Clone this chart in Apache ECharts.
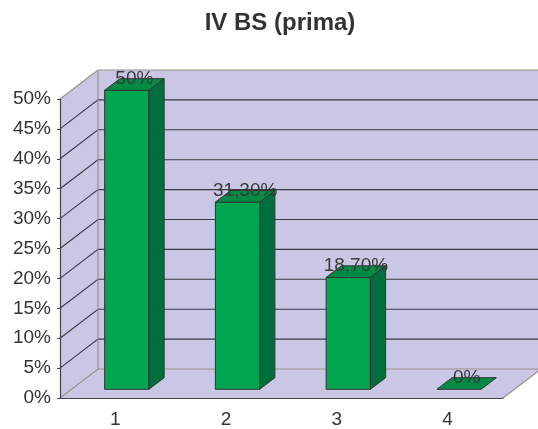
<!DOCTYPE html>
<html>
<head>
<meta charset="utf-8">
<script src="https://cdn.jsdelivr.net/npm/echarts@6/dist/echarts.min.js"></script>
<style>
  html, body { margin: 0; padding: 0; background: #fff; }
  #chart { width: 538px; height: 429px; }
</style>
</head>
<body>
<div id="chart"></div>
<script>
// data
const categories = ["1", "2", "3", "4"];
const values = [50, 31.3, 18.7, 0];
const valueLabels = ["50%", "31,30%", "18,70%", "0%"];
const gridValues = [0, 5, 10, 15, 20, 25, 30, 35, 40, 45, 50];

// pseudo 3d look
const DX = 38, DY = -29;
const WALL = "#C9C7E4";
const FONT = "Liberation Sans, Arial, sans-serif";

function renderWalls(params, api) {
  const cs = params.coordSys;
  const x0 = cs.x, x1 = cs.x + cs.width;
  const yTop = api.coord([0, 50])[1];
  const yBot = api.coord([0, 0])[1];
  const edge = { stroke: "#9a918c", lineWidth: 1.2 };
  const children = [
    // back wall
    { type: "polygon", shape: { points: [[x0 + DX, yTop + DY], [x1 + DX, yTop + DY], [x1 + DX, yBot + DY], [x0 + DX, yBot + DY]] },
      style: { fill: WALL } },
    // left wall
    { type: "polygon", shape: { points: [[x0, yTop], [x0 + DX, yTop + DY], [x0 + DX, yBot + DY], [x0, yBot]] },
      style: { fill: WALL } },
    // floor
    { type: "polygon", shape: { points: [[x0, yBot], [x1, yBot], [x1 + DX, yBot + DY], [x0 + DX, yBot + DY]] },
      style: { fill: WALL } }
  ];
  gridValues.forEach(function (v) {
    const y = api.coord([0, v])[1];
    const dark = v !== 0 && v !== 50;
    children.push({
      type: "polyline",
      shape: { points: [[x0, y], [x0 + DX, y + DY], [x1 + DX + 4, y + DY]] },
      style: dark ? { stroke: "#3a3a42", lineWidth: 1.1, fill: null } : Object.assign({ fill: null }, edge)
    });
  });
  // back vertical edge + floor right edge
  children.push({ type: "line", shape: { x1: x0 + DX, y1: yTop + DY, x2: x0 + DX, y2: yBot + DY }, style: edge });
  children.push({ type: "line", shape: { x1: x1, y1: yBot, x2: x1 + DX, y2: yBot + DY }, style: edge });
  return { type: "group", children: children };
}

function renderBar(params, api) {
  const i = api.value(0), v = api.value(1);
  const base = api.coord([i, 0]);
  const top = api.coord([i, v]);
  const band = api.size([1, 0])[0];
  const w = band * 0.4;
  const fx = DX * 0.3, fy = DY * 0.3, bx = DX * 0.4, by = DY * 0.4;
  const xl = base[0] - w / 2 + fx, xr = xl + w;
  const yb = base[1] + fy, yt = top[1] + fy;
  const line = { stroke: "#333", lineWidth: 1 };
  const children = [];
  if (yb - yt > 0.5) {
    children.push({ type: "polygon", shape: { points: [[xl, yt], [xr, yt], [xr, yb], [xl, yb]] },
      style: Object.assign({ fill: "#00A54F" }, line) });
    children.push({ type: "polygon", shape: { points: [[xr, yt], [xr + bx, yt + by], [xr + bx, yb + by], [xr, yb]] },
      style: Object.assign({ fill: "#006F3D" }, line) });
  }
  children.push({ type: "polygon", shape: { points: [[xl, yt], [xr, yt], [xr + bx, yt + by], [xl + bx, yt + by]] },
    style: Object.assign({ fill: "#008B45" }, line) });
  children.push({ type: "text",
    style: { text: valueLabels[params.dataIndex], x: (xl + xr) / 2 + bx / 2, y: yt + by / 2 - 6,
      align: "center", verticalAlign: "middle", fill: "#3a3a3a", fontSize: 19, fontFamily: FONT } });
  return { type: "group", children: children };
}

const chart = echarts.init(document.getElementById("chart"));
chart.setOption({
  animation: false,
  title: {
    text: "IV BS (prima)",
    left: 275,
    top: 6,
    textAlign: "center",
    textStyle: { fontSize: 24, fontWeight: "bold", color: "#333", fontFamily: FONT }
  },
  grid: { left: 60, right: 35, top: 99, bottom: 29 },
  xAxis: {
    type: "category",
    data: categories,
    axisLine: { lineStyle: { color: "#444", width: 1.2 } },
    axisTick: { length: 4, lineStyle: { color: "#444" } },
    axisLabel: { color: "#333", fontSize: 19, fontFamily: FONT, margin: 12 },
    splitLine: { show: false },
    z: 5
  },
  yAxis: {
    type: "value",
    min: 0,
    max: 50,
    interval: 5,
    axisLine: { show: true, lineStyle: { color: "#444", width: 1.2 } },
    axisTick: { show: true, length: 3, lineStyle: { color: "#444" } },
    axisLabel: { formatter: "{value}%", color: "#333", fontSize: 19, fontFamily: FONT, margin: 9 },
    splitLine: { show: false },
    z: 5
  },
  series: [
    { type: "custom", renderItem: renderWalls, data: [[0, 0]], z: 1, silent: true },
    { type: "custom", renderItem: renderBar, data: values.map(function (v, i) { return [i, v]; }), z: 3, silent: true }
  ]
});
</script>
</body>
</html>
